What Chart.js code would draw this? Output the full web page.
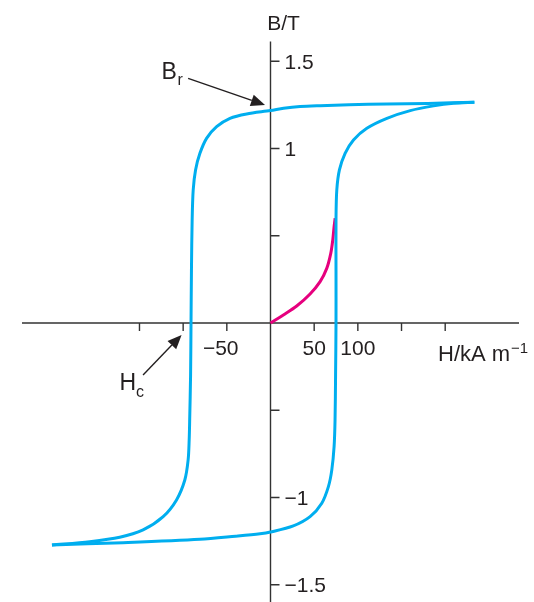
<!DOCTYPE html>
<html>
<head>
<meta charset="utf-8">
<script src="https://cdn.jsdelivr.net/npm/chart.js@4.4.1/dist/chart.umd.min.js"></script>
<style>
  html, body { margin: 0; padding: 0; background: #fff; }
  canvas { display: block; }
</style>
</head>
<body>
<canvas id="loop" width="534" height="602"></canvas>
<script>
// upper branch, from the right tip down to the left tip (H in kA/m, B in T)
const hTop = [233.4, 180, 133.3, 90, 56.8, 33.8, 15, 0, -27.3, -46.4, -61.7, -73.2, -80.8, -85.8, -88.5, -89.7,
  -90.5, -91, -91.5, -92.5, -93.1, -94.3, -98.1, -107.6, -122.9, -145.9, -172.6, -207, -250.2];
const bTop = [1.265, 1.258, 1.255, 1.25, 1.245, 1.24, 1.23, 1.217, 1.198, 1.173, 1.125, 1.058, 0.972, 0.877, 0.762, 0.59,
  0.3, 0, -0.3, -0.55, -0.67, -0.785, -0.9, -1.014, -1.11, -1.186, -1.228, -1.253, -1.272];

// lower branch, from the left tip back up to the right tip
const hBottom = [-250.2, -168.8, -80.8, -40, -12, 0, 26.1, 45.3, 58.7, 66.3, 70.2, 72.8, 73.9, 74.5, 75, 75, 75,
  75.9, 78.9, 85.4, 95, 110.3, 133.3, 160, 186.7, 209.6, 233.4];
const bBottom = [-1.272, -1.259, -1.24, -1.222, -1.208, -1.198, -1.163, -1.11, -1.033, -0.938, -0.842, -0.709, -0.556, -0.3, 0, 0.3, 0.6,
  0.762, 0.877, 0.972, 1.049, 1.116, 1.173, 1.217, 1.244, 1.259, 1.265];

// initial magnetisation curve
const hInitial = [0, 14.7, 30, 45.3, 56.8, 64.4, 69, 71.3, 72.8, 74];
const bInitial = [0, 0.046, 0.097, 0.166, 0.237, 0.313, 0.399, 0.476, 0.552, 0.6];

const xTicks = [-150, -100, -50, 50, 100, 150, 200];
const xLabelValues = [-50, 50, 100];
const xLabelTexts = ["\u221250", "50", "100"];
const yTicks = [-1.5, -1, -0.5, 0.5, 1, 1.5];
const yLabelValues = [-1.5, -1, 1, 1.5];
const yLabelTexts = ["\u22121.5", "\u22121", "1", "1.5"];

// annotation arrows: [tailH, tailB, tipH, tipB]
const arrowBr = [-94.3, 1.402, -6.3, 1.249];
const arrowHc = [-145.9, -0.298, -101.8, -0.069];

const toPoints = (hs, bs) => hs.map((h, i) => ({ x: h, y: bs[i] }));

const FONT = '"Liberation Sans", Arial, Helvetica, sans-serif';
const INK = "#231f20";

function arrow(ctx, x, y, a) {
  const x1 = x.getPixelForValue(a[0]), y1 = y.getPixelForValue(a[1]);
  const x2 = x.getPixelForValue(a[2]), y2 = y.getPixelForValue(a[3]);
  const ang = Math.atan2(y2 - y1, x2 - x1);
  const len = 14, half = 6;
  const bx = x2 - len * Math.cos(ang), by = y2 - len * Math.sin(ang);
  ctx.beginPath();
  ctx.moveTo(x1, y1);
  ctx.lineTo(bx, by);
  ctx.stroke();
  ctx.beginPath();
  ctx.moveTo(x2, y2);
  ctx.lineTo(bx + half * Math.sin(ang), by - half * Math.cos(ang));
  ctx.lineTo(bx - half * Math.sin(ang), by + half * Math.cos(ang));
  ctx.closePath();
  ctx.fill();
}

const axesPlugin = {
  id: "axes",
  beforeDatasetsDraw(chart) {
    const { ctx, chartArea: area, scales: { x, y } } = chart;
    const x0 = x.getPixelForValue(0), y0 = y.getPixelForValue(0);
    ctx.save();
    ctx.strokeStyle = "#333";
    ctx.lineWidth = 1.4;
    ctx.beginPath();
    ctx.moveTo(area.left, y0); ctx.lineTo(area.right, y0);
    ctx.moveTo(x0, area.top); ctx.lineTo(x0, area.bottom);
    xTicks.forEach(v => {
      const px = x.getPixelForValue(v);
      ctx.moveTo(px, y0); ctx.lineTo(px, y0 + 8);
    });
    yTicks.forEach(v => {
      const py = y.getPixelForValue(v);
      ctx.moveTo(x0, py); ctx.lineTo(x0 + 9, py);
    });
    ctx.stroke();
    ctx.restore();
  },
  afterDatasetsDraw(chart) {
    const { ctx, chartArea: area, scales: { x, y } } = chart;
    const x0 = x.getPixelForValue(0), y0 = y.getPixelForValue(0);
    ctx.save();
    ctx.fillStyle = INK;
    ctx.strokeStyle = INK;
    ctx.font = "21px " + FONT;

    // x tick labels, minus sign hangs to the left
    ctx.textAlign = "center";
    ctx.textBaseline = "alphabetic";
    xLabelValues.forEach((v, i) => {
      const t = xLabelTexts[i];
      let px = x.getPixelForValue(v);
      if (t.startsWith("\u2212")) px -= ctx.measureText("\u2212").width / 2;
      ctx.fillText(t, px, y0 + 32);
    });

    // y tick labels
    ctx.textAlign = "left";
    yLabelValues.forEach((v, i) => {
      ctx.fillText(yLabelTexts[i], x0 + 14, y.getPixelForValue(v) + 7.5);
    });

    // axis titles
    ctx.textAlign = "center";
    ctx.fillText("B/T", x0 + 13, area.top - 12);
    ctx.textAlign = "left";
    ctx.font = "22px " + FONT;
    ctx.fillText("H/kA m", 438, y0 + 38.5);
    const w = ctx.measureText("H/kA m").width;
    ctx.font = "15px " + FONT;
    ctx.fillText("\u22121", 438 + w + 1, y0 + 30);

    // Br and Hc labels
    ctx.font = "23px " + FONT;
    ctx.fillText("B", 161.5, 78.5);
    ctx.fillText("H", 119.5, 390);
    ctx.font = "16px " + FONT;
    ctx.fillText("r", 177.5, 85);
    ctx.fillText("c", 136, 397);

    ctx.lineWidth = 1.4;
    arrow(ctx, x, y, arrowBr);
    arrow(ctx, x, y, arrowHc);
    ctx.restore();
  }
};

const line = (data, color) => ({
  data,
  showLine: true,
  borderColor: color,
  borderWidth: 3,
  pointRadius: 0,
  tension: 0.3,
  fill: false
});

new Chart(document.getElementById("loop").getContext("2d"), {
  type: "scatter",
  data: {
    datasets: [
      line(toPoints(hTop, bTop), "#00aeef"),
      line(toPoints(hBottom, bBottom), "#00aeef"),
      line(toPoints(hInitial, bInitial), "#e6007e")
    ]
  },
  options: {
    responsive: false,
    animation: false,
    devicePixelRatio: 1,
    layout: { padding: { left: 22, right: 15, top: 41.5, bottom: 0 } },
    plugins: { legend: { display: false }, tooltip: { enabled: false } },
    scales: {
      x: { type: "linear", min: -284.5, max: 284.5, display: false },
      y: { type: "linear", min: -1.599, max: 1.613, display: false }
    }
  },
  plugins: [axesPlugin]
});
</script>
</body>
</html>
